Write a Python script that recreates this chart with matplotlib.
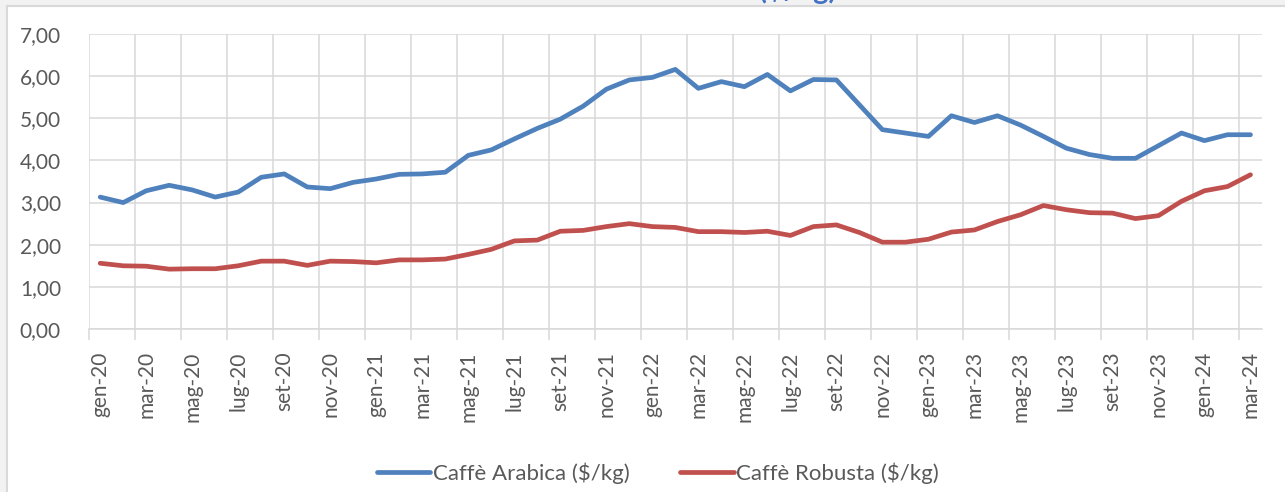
import matplotlib.pyplot as plt
from matplotlib.patches import Rectangle

plt.rcParams["font.family"] = ["Lato", "DejaVu Sans"]

months = ["gen", "feb", "mar", "apr", "mag", "giu",
          "lug", "ago", "set", "ott", "nov", "dic"]
periods = [f"{m}-{y}" for y in range(20, 25) for m in months][:51]

arabica = [3.13, 3.00, 3.28, 3.41, 3.30, 3.13, 3.25, 3.60, 3.68, 3.37,
           3.33, 3.48, 3.56, 3.67, 3.68, 3.72, 4.12, 4.25, 4.51, 4.76,
           4.98, 5.29, 5.69, 5.91, 5.97, 6.16, 5.71, 5.87, 5.75, 6.04,
           5.65, 5.92, 5.91, 5.32, 4.73, 4.65, 4.57, 5.06, 4.90, 5.06,
           4.84, 4.57, 4.29, 4.14, 4.05, 4.05, 4.35, 4.65, 4.47, 4.61,
           4.61]
robusta = [1.56, 1.50, 1.49, 1.42, 1.43, 1.43, 1.50, 1.61, 1.61, 1.51,
           1.61, 1.60, 1.57, 1.64, 1.64, 1.66, 1.77, 1.89, 2.09, 2.11,
           2.32, 2.34, 2.43, 2.50, 2.43, 2.41, 2.31, 2.31, 2.29, 2.32,
           2.22, 2.43, 2.47, 2.29, 2.06, 2.06, 2.13, 2.30, 2.35, 2.55,
           2.71, 2.93, 2.83, 2.76, 2.75, 2.62, 2.69, 3.03, 3.28, 3.38,
           3.66]

BLUE = "#4f81bd"
RED = "#c0504d"
GRID = "#d9d9d9"
TXT = "#595959"

fig = plt.figure(figsize=(12.85, 4.92), dpi=100, facecolor="#f2f2f2")

# chart frame (screenshot border)
fig.patches.append(Rectangle((6.5 / 1285, -0.1), 1.2, 1.1 - 5.5 / 492,
                             transform=fig.transFigure, facecolor="white",
                             edgecolor=GRID, linewidth=1.5, zorder=-1))
# title, cut off at the top of the picture as in the source
fig.text(0.621, 1 - 4 / 492, "($/kg)", color="#4472c4", fontsize=21,
         fontweight="bold", ha="center", va="bottom")

ax = fig.add_axes([88.7 / 1285, 1 - 329 / 492, (1262 - 88.7) / 1285, 295 / 492])
ax.set_facecolor("white")

x = list(range(len(periods)))
ax.plot(x, arabica, color=BLUE, lw=3.4, solid_capstyle="round",
        solid_joinstyle="round", label="Caffè Arabica ($/kg)")
ax.plot(x, robusta, color=RED, lw=3.4, solid_capstyle="round",
        solid_joinstyle="round", label="Caffè Robusta ($/kg)")

ax.set_xlim(-0.5, len(periods) - 0.5)
ax.set_ylim(0, 7)

ax.set_yticks(range(8))
ax.set_yticklabels([f"{v},00" for v in range(8)])
ax.yaxis.grid(True, color=GRID, lw=1.1)

# category boundaries every 2 months: grid + small ticks below the axis
bounds = [b - 0.5 for b in range(0, len(periods), 2)]
ax.set_xticks(bounds)
ax.set_xticklabels([])
ax.xaxis.grid(True, color=GRID, lw=1.1)
ax.tick_params(axis="x", which="major", length=8, width=1.1, color=GRID)
ax.set_xticks(x[::2], minor=True)
ax.set_xticklabels(periods[::2], minor=True, rotation=90)
ax.tick_params(axis="x", which="minor", length=0, pad=16,
               labelsize=15, labelcolor=TXT)
ax.tick_params(axis="y", length=0, pad=20, labelsize=15, labelcolor=TXT)
ax.set_axisbelow(True)

for s in ["top", "right", "left"]:
    ax.spines[s].set_visible(False)
ax.spines["bottom"].set_color(GRID)
ax.spines["bottom"].set_linewidth(1.1)

fig.legend(loc="center", bbox_to_anchor=(0.512, 1 - 473 / 492), ncol=2,
           frameon=False, fontsize=16, labelcolor=TXT, handlelength=2.4,
           handletextpad=0.1, columnspacing=2.3)

fig.savefig("out.png", dpi=100, facecolor=fig.get_facecolor())
